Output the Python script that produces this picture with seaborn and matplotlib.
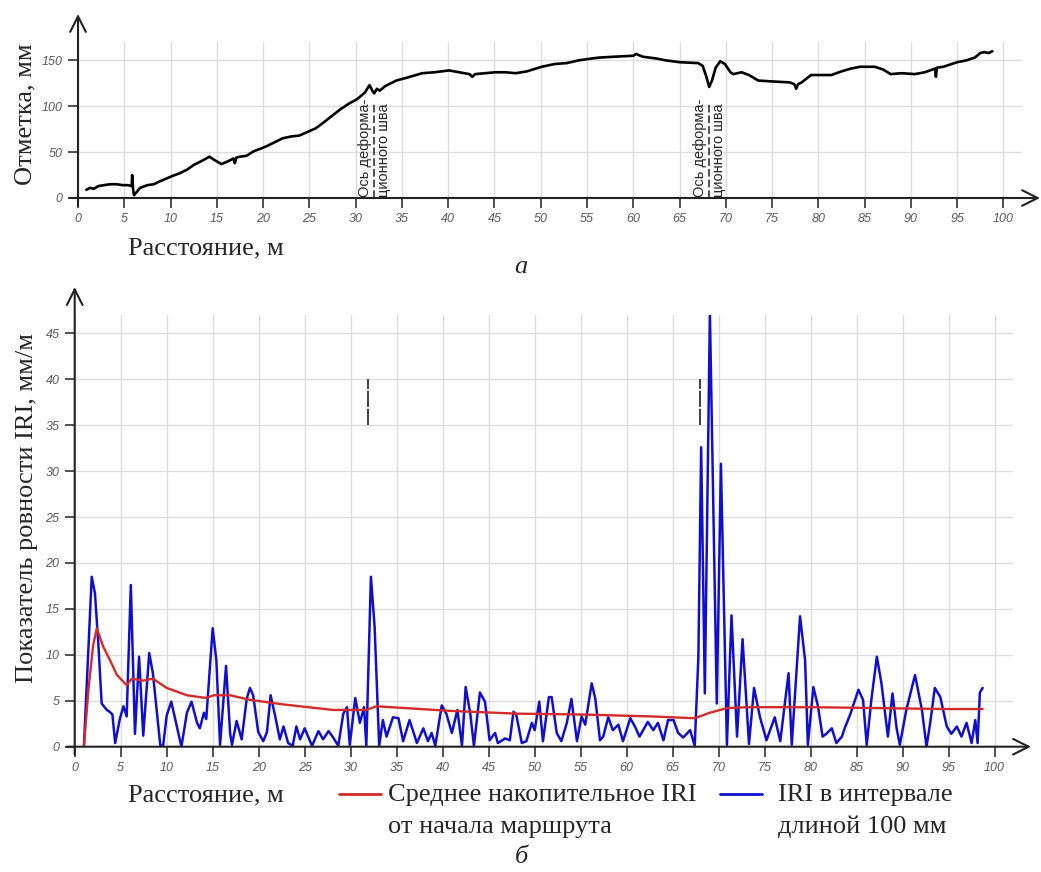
import numpy as np
import pandas as pd
import matplotlib
matplotlib.use("Agg")
import matplotlib.pyplot as plt
import seaborn as sns
from matplotlib.lines import Line2D

# elevation profile (top chart), m / mm
dist_top = [0.9, 1.3, 1.7, 2.2, 2.8, 3.5, 4.2, 4.8, 5.4, 5.8, 5.85, 5.95, 6.05, 6.3, 6.7,
            7.5, 8.2, 8.8, 9.5, 10.2, 11.0, 11.8, 12.5, 13.3, 14.2, 14.8, 15.5, 16.2, 16.8,
            16.95, 17.1, 17.5, 18.2, 19.0, 19.8, 20.5, 21.3, 22.1, 23.0, 23.9, 24.8, 25.7,
            26.5, 27.5, 28.4, 29.3, 30.2, 31.0, 31.5, 31.8, 32.0, 32.3, 32.6, 33.2, 34.4,
            35.5, 37.2, 38.5, 40.1, 41.2, 42.3, 42.6, 42.9, 44.0, 45.1, 46.2, 47.3, 48.5,
            50.1, 51.5, 52.8, 54.1, 55.5, 56.3, 58.0, 60.0, 60.3, 61.0, 62.5, 63.5, 65.0,
            67.0, 67.5, 67.9, 68.2, 68.5, 68.9, 69.4, 69.9, 70.5, 70.8, 71.7, 72.5, 73.5,
            75.0, 76.9, 77.4, 77.6, 77.8, 78.2, 79.2, 80.3, 81.4, 82.5, 83.5, 84.5, 86.1,
            87.0, 87.8, 89.0, 90.4, 91.5, 92.6, 92.7, 92.8, 93.5, 95.0, 96.0, 96.9, 97.5,
            97.9, 98.4, 98.8]
elev = [9, 11, 10, 13, 14, 15, 15, 14, 14, 13, 25, 10, 3, 6, 11,
        14, 15, 18, 21, 24, 27, 31, 36, 40, 45, 41, 37, 40, 43,
        38, 44, 45, 46, 51, 54, 57, 61, 65, 67, 68, 72, 76,
        82, 90, 97, 103, 108, 115, 123, 117, 114, 119, 117, 122, 128,
        131, 136, 137, 139, 137, 135, 132, 135, 136, 137, 137, 136, 138,
        143, 146, 147, 150, 152, 153, 154, 155, 157, 154, 152, 150, 148,
        147, 144, 132, 121, 128, 142, 149, 146, 137, 135, 137, 134, 128,
        127, 126, 124, 119, 124, 126, 134, 134, 134, 138, 141, 143, 143,
        140, 135, 136, 135, 137, 141, 132, 142, 143, 148, 150, 153, 158,
        159, 158, 160]

# IRI in 100 mm window (bottom chart, blue)
dist_iri = [1.0, 1.85, 2.2, 2.57, 2.93, 3.5, 3.8, 4.1, 4.4, 4.9, 5.3, 5.65, 6.1, 6.55, 7.0,
            7.45, 8.1, 8.5, 9.3, 9.6, 10.0, 10.5, 11.1, 11.6, 12.2, 12.7, 13.3, 13.6, 14.05,
            14.3, 15.0, 15.4, 15.8, 16.45, 16.9, 17.1, 17.6, 18.15, 18.7, 19.05, 19.4, 19.95,
            20.5, 20.9, 21.3, 21.8, 22.3, 22.7, 23.2, 23.7, 24.1, 24.5, 25.0, 25.8, 26.5,
            27.0, 27.6, 28.1, 28.65, 29.2, 29.6, 29.9, 30.5, 31.0, 31.45, 31.7, 32.2, 32.6,
            33.1, 33.5, 33.9, 34.6, 35.2, 35.7, 36.4, 37.2, 37.9, 38.4, 38.8, 39.2, 39.9,
            40.4, 41.0, 41.6, 42.1, 42.5, 43.0, 43.4, 44.05, 44.6, 45.1, 45.7, 46.0, 46.8,
            47.3, 47.7, 48.0, 48.6, 49.1, 49.7, 50.0, 50.5, 50.9, 51.55, 51.85, 52.4, 52.9,
            53.5, 54.0, 54.6, 55.1, 55.5, 56.2, 56.6, 57.1, 57.45, 58.0, 58.5, 59.1, 59.6,
            60.4, 60.9, 61.4, 62.3, 62.9, 63.4, 64.0, 64.5, 65.1, 65.6, 66.15, 66.9, 67.4,
            67.8, 68.1, 68.5, 69.05, 69.8, 70.25, 70.9, 71.4, 72.0, 72.6, 73.3, 73.85, 74.5,
            75.2, 76.1, 76.7, 77.6, 77.95, 78.85, 79.4, 79.7, 80.3, 80.8, 81.3, 81.7, 82.3,
            82.8, 83.4, 83.7, 84.3, 85.2, 85.7, 86.1, 86.6, 87.2, 87.7, 88.4, 88.9, 89.35,
            89.7, 90.4, 91.35, 92.1, 92.6, 93.0, 93.5, 94.1, 94.8, 95.3, 95.9, 96.4, 96.95,
            97.5, 97.9, 98.15, 98.4, 98.7]
iri = [0, 18.5, 16.7, 11.2, 4.7, 4.0, 3.8, 3.5, 0.4, 3.0, 4.4, 3.3, 17.6, 1.4, 9.8,
       1.2, 10.2, 8.0, 0.2, 0.0, 3.4, 4.9, 2.2, 0.0, 3.7, 4.9, 2.6, 2.0, 3.7,
       3.0, 12.9, 9.4, 0.2, 8.8, 1.4, 0.2, 2.8, 0.8, 5.2, 6.4, 5.6, 1.6,
       0.6, 1.6, 5.6, 3.3, 0.8, 2.2, 0.4, 0.1, 2.2, 0.8, 2.0, 0.1, 1.7,
       0.8, 1.7, 1.0, 0.1, 3.6, 4.3, 0.2, 5.3, 2.6, 4.3, 0.1, 18.5, 13.1,
       0.1, 2.9, 1.1, 3.2, 3.1, 0.6, 2.9, 0.4, 2.0, 0.6, 1.5, 0.1, 4.5,
       3.6, 1.5, 4.0, 0.1, 6.5, 3.6, 0.1, 5.9, 4.9, 0.7, 1.5, 0.4, 0.9,
       0.7, 3.8, 3.5, 0.4, 0.6, 2.6, 1.8, 4.9, 0.6, 5.4, 5.4, 1.5, 0.6,
       2.6, 5.2, 0.6, 3.3, 2.4, 6.9, 5.2, 0.7, 1.1, 3.2, 1.8, 2.4, 0.6,
       3.1, 2.2, 1.1, 2.7, 1.8, 2.6, 0.7, 2.9, 2.9, 1.5, 1.0, 1.8, 0.1,
       9.8, 32.6, 5.8, 47.3, 4.7, 30.8, 0.2, 14.3, 1.1, 11.7, 0.3, 6.4, 3.2,
       0.7, 3.2, 0.6, 8.0, 0.2, 14.2, 9.4, 0.2, 6.5, 4.4, 1.1, 1.4, 2.0,
       0.4, 1.1, 2.0, 3.5, 6.2, 5.1, 0.2, 5.1, 9.8, 6.9, 1.1, 5.8, 2.0,
       0.2, 4.0, 7.8, 4.0, 0.0, 2.6, 6.4, 5.4, 2.2, 1.4, 2.2, 1.1, 2.6,
       0.4, 2.9, 0.4, 5.9, 6.4]

# cumulative mean IRI from the start (bottom chart, red)
dist_mean = [1.0, 1.5, 2.0, 2.4, 3.1, 3.8, 4.6, 5.65, 6.2, 7.45, 8.5, 10.0, 12.2, 14.3, 15.1,
             16.9, 19.05, 22.7, 28.1, 31.7, 32.8, 40.8, 48.0, 55.3, 62.6, 67.4, 69.05, 70.9,
             73.1, 80.3, 87.6, 94.8, 98.7]
iri_mean = [0, 6.3, 11.0, 12.9, 10.9, 9.5, 7.8, 6.7, 7.4, 7.2, 7.4, 6.4, 5.6, 5.3, 5.6,
            5.6, 5.1, 4.6, 4.0, 4.0, 4.4, 3.9, 3.6, 3.5, 3.3, 3.1, 3.7, 4.2,
            4.3, 4.3, 4.2, 4.1, 4.1]

joints = [32.0, 68.2]
x_ticks = list(range(0, 101, 5))
top_yticks = [0, 50, 100, 150]
bot_yticks = list(range(0, 46, 5))

sns.set_theme(style="white")
plt.rcParams['font.family'] = ['Liberation Serif', 'DejaVu Serif']

W, H = 1041, 872
fig = plt.figure(figsize=(W / 100, H / 100), dpi=100)


def add_ax(l, t, r, b):
    return fig.add_axes([l / W, 1 - b / H, (r - l) / W, (b - t) / H])


def style_ax(ax, ymax, yticks, wpx, hpx, arrow_top):
    ax.set_xlim(0, 102)
    ax.set_ylim(0, ymax)
    ax.set_xticks(x_ticks)
    ax.set_yticks(yticks)
    for s in ax.spines.values():
        s.set_visible(False)
    ax.grid(True, color='#dcdcdc', lw=1)
    ax.set_axisbelow(True)
    ax.tick_params(axis='both', direction='out', length=7, width=1.2, color='#333333',
                   labelcolor='#5a5a5a', labelsize=9, pad=4, bottom=True, left=True)
    for lbl in ax.get_xticklabels() + ax.get_yticklabels():
        lbl.set_fontstyle('italic')
        lbl.set_family('Liberation Sans')
    ax.set_xlabel('')
    ax.set_ylabel('')
    arrow = dict(arrowstyle='->', lw=1.5, color='#222222', mutation_scale=28,
                 shrinkA=0, shrinkB=0)
    ax.annotate('', xy=(1 + 18 / wpx, 0), xytext=(-8 / wpx, 0), xycoords='axes fraction',
                arrowprops=arrow, annotation_clip=False)
    ax.annotate('', xy=(0, 1 + arrow_top / hpx), xytext=(0, -8 / hpx), xycoords='axes fraction',
                arrowprops=arrow, annotation_clip=False)


# ---- top chart
ax1 = add_ax(78, 42, 1022, 198)
sns.lineplot(x=dist_top, y=elev, ax=ax1, color='black', lw=1.9, estimator=None, sort=False)
style_ax(ax1, 170, top_yticks, 944, 156, 28)
for j in joints:
    ax1.vlines(j, 0, 103, color='#222222', lw=1.1, linestyles=(0, (5, 2)))
    ax1.text(j - 1.0, 1, 'Ось деформа-', rotation=90, ha='center', va='bottom',
             fontsize=10.5, family='Liberation Sans')
    ax1.text(j + 1.1, 1, 'ционного шва', rotation=90, ha='center', va='bottom',
             fontsize=10.5, family='Liberation Sans')

# ---- bottom chart
ax2 = add_ax(74.7, 315, 1013, 746.7)
sns.lineplot(x=dist_iri, y=iri, ax=ax2, color='#1010cc', lw=1.8, estimator=None, sort=False)
sns.lineplot(x=dist_mean, y=iri_mean, ax=ax2, color='#d42a2a', lw=1.7, estimator=None, sort=False)
style_ax(ax2, 47, bot_yticks, 938, 432, 28)
ax2.vlines([31.9, 68.0], 35, 40, color='#333333', lw=1.3, linestyles=(0, (9, 1)))

# ---- labels
fs = 19
fig.text(25 / W, 1 - 114 / H, 'Отметка, мм', rotation=90, ha='center', va='center', fontsize=fs)
fig.text(128 / W, 1 - 248 / H, 'Расстояние, м', ha='left', va='center', fontsize=fs)
fig.text(521 / W, 1 - 267 / H, 'а', ha='center', va='center', fontsize=fs, style='italic')

fig.text(27 / W, 1 - 508 / H, 'Показатель ровности IRI, мм/м', rotation=90, ha='center',
         va='center', fontsize=fs)
fig.text(128 / W, 1 - 795 / H, 'Расстояние, м', ha='left', va='center', fontsize=fs)
fig.add_artist(Line2D([339 / W, 381 / W], [1 - 794 / H] * 2, color='#d42a2a', lw=2))
fig.text(388 / W, 1 - 795 / H, 'Среднее накопительное IRI', ha='left', va='center', fontsize=fs)
fig.text(388 / W, 1 - 827 / H, 'от начала маршрута', ha='left', va='center', fontsize=fs)
fig.add_artist(Line2D([720 / W, 762 / W], [1 - 794 / H] * 2, color='#1010cc', lw=2))
fig.text(778 / W, 1 - 795 / H, 'IRI в интервале', ha='left', va='center', fontsize=fs)
fig.text(778 / W, 1 - 827 / H, 'длиной 100 мм', ha='left', va='center', fontsize=fs)
fig.text(521 / W, 1 - 857 / H, 'б', ha='center', va='center', fontsize=fs, style='italic')

fig.savefig('out.png', dpi=100)
